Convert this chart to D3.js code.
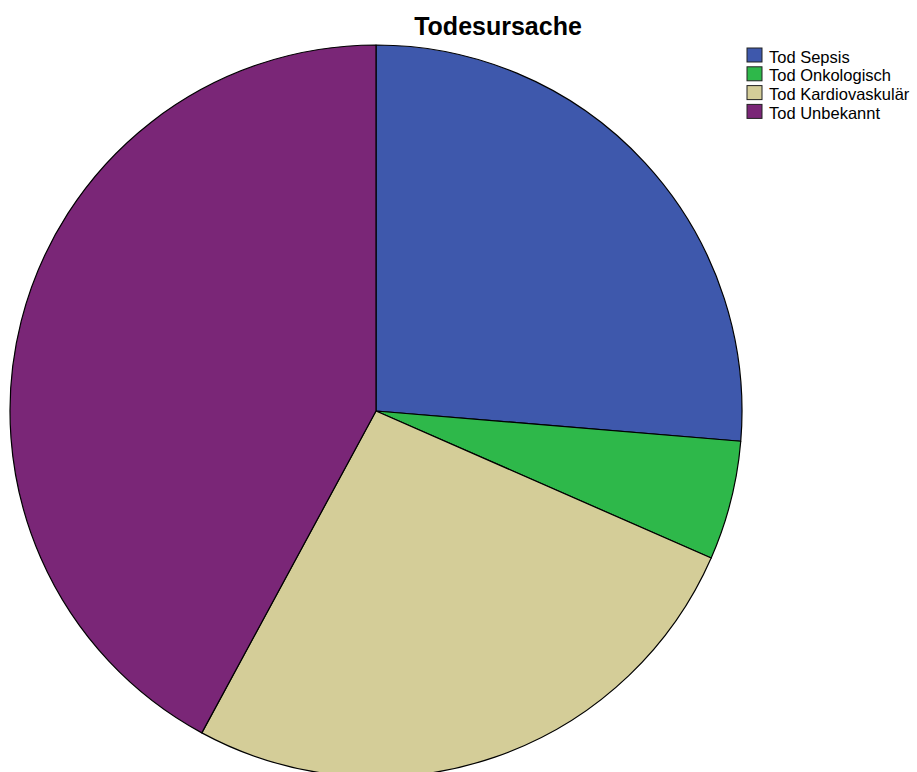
<!DOCTYPE html>
<html>
<head>
<meta charset="utf-8">
<script src="https://cdn.jsdelivr.net/npm/d3@7/dist/d3.min.js"></script>
<style>
  html, body { margin: 0; padding: 0; background: #fff; }
  svg { display: block; }
</style>
</head>
<body>
<script>
// Causes of death (counts)
const categories = ["Tod Sepsis", "Tod Onkologisch", "Tod Kardiovaskulär", "Tod Unbekannt"];
const counts = [5, 1, 5, 8];
const colors = ["#3e58ac", "#2eb84a", "#d4cd98", "#7a2677"];
const title = "Todesursache";

const W = 917, H = 772;
const svg = d3.select("body").append("svg").attr("width", W).attr("height", H);

const cx = 376, cy = 411, r = 366;

const pie = d3.pie().sort(null).value(d => d.v);
const arc = d3.arc().innerRadius(0).outerRadius(r);
const data = categories.map((c, i) => ({ c, v: counts[i], col: colors[i] }));

svg.append("g")
  .attr("transform", `translate(${cx},${cy})`)
  .selectAll("path")
  .data(pie(data))
  .join("path")
  .attr("d", arc)
  .attr("fill", d => d.data.col)
  .attr("stroke", "#000")
  .attr("stroke-width", 1.2)
  .attr("stroke-linejoin", "round");

svg.append("text")
  .attr("x", 498).attr("y", 35)
  .attr("text-anchor", "middle")
  .attr("font-family", "Liberation Sans, Arial, sans-serif")
  .attr("font-weight", "bold")
  .attr("font-size", 25)
  .attr("fill", "#000")
  .text(title);

const legend = svg.append("g").attr("transform", "translate(747,48)");
const rows = legend.selectAll("g").data(data).join("g")
  .attr("transform", (d, i) => `translate(0,${i * 18.8})`);
rows.append("rect")
  .attr("width", 15).attr("height", 14)
  .attr("fill", d => d.col)
  .attr("stroke", "#222").attr("stroke-width", 1);
rows.append("text")
  .attr("x", 22).attr("y", 14.5)
  .attr("font-family", "Liberation Sans, Arial, sans-serif")
  .attr("font-size", 16.5)
  .attr("fill", "#000")
  .text(d => d.c);
</script>
</body>
</html>
